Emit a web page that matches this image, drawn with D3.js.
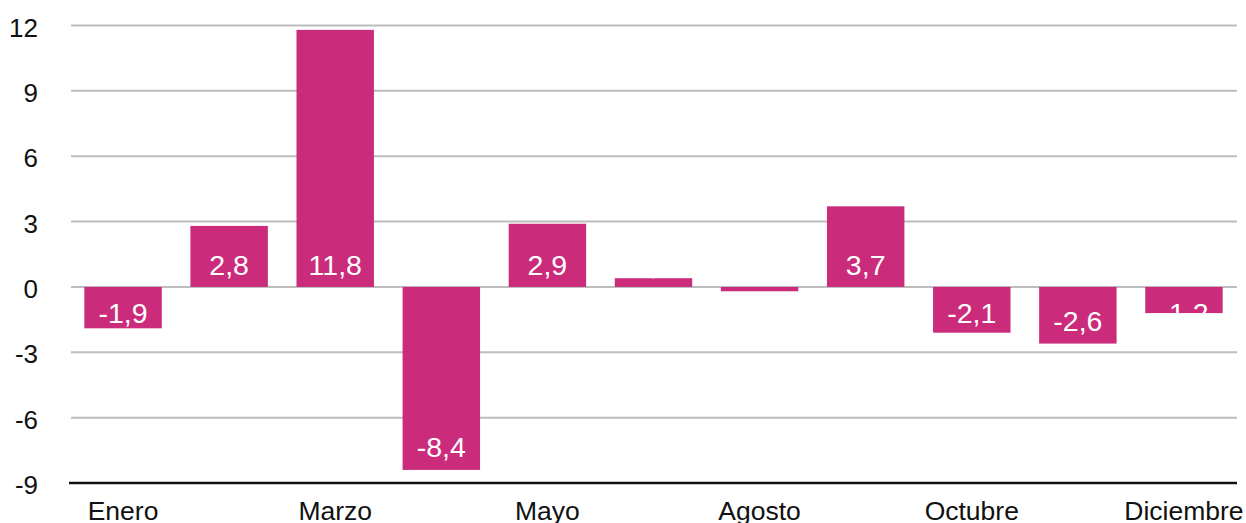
<!DOCTYPE html>
<html lang="es">
<head>
<meta charset="utf-8">
<script src="https://cdn.jsdelivr.net/npm/d3@7"></script>
<style>
  html, body { margin: 0; padding: 0; background: #fff; }
  svg { display: block; font-family: "Liberation Sans", Arial, Helvetica, sans-serif; }
</style>
</head>
<body>
<svg id="chart" width="1246" height="523"></svg>
<script>
// Monthly variation (%)
const months = ["Enero", "Febrero", "Marzo", "Abril", "Mayo", "Junio",
                "Agosto", "Septiembre", "Octubre", "Noviembre", "Diciembre"];
const values = [-1.9, 2.8, 11.8, -8.4, 2.9, 0.4, -0.2, 3.7, -2.1, -2.6, -1.2];
const yTicks = [-9, -6, -3, 0, 3, 6, 9, 12];
const shownMonths = ["Enero", "Marzo", "Mayo", "Agosto", "Octubre", "Diciembre"];

const data = months.map((m, i) => ({ month: m, value: values[i] }));

const svg = d3.select("#chart");
const plot = { left: 70, right: 1237, top: 25.5, bottom: 483 };
const barColor = "#cb2b7b";

const x = d3.scaleBand()
  .domain(months)
  .range([plot.left, plot.right])
  .paddingInner(0.27)
  .paddingOuter(0.135);

const y = d3.scaleLinear()
  .domain([-9, 12])
  .range([plot.bottom, plot.top]);

const fmt = v => d3.format(".1f")(v).replace(".", ",").replace("−", "-");

// Horizontal gridlines
svg.append("g")
  .selectAll("line")
  .data(yTicks.filter(t => t !== -9))
  .join("line")
  .attr("x1", plot.left + 1)
  .attr("x2", plot.right)
  .attr("y1", d => y(d))
  .attr("y2", d => y(d))
  .attr("stroke", "#bdbdbd")
  .attr("stroke-width", 2);

// Y tick labels
svg.append("g")
  .selectAll("text")
  .data(yTicks)
  .join("text")
  .attr("x", 38)
  .attr("y", d => y(d) + 11)
  .attr("text-anchor", "end")
  .attr("font-size", 26)
  .attr("fill", "#111")
  .text(d => d);

// Bars
const zero = y(0);
const bars = svg.append("g");
const defs = svg.append("defs");

data.forEach((d, i) => {
  const x0 = x(d.month);
  const y0 = Math.min(y(d.value), zero);
  const h = Math.abs(y(d.value) - zero);
  bars.append("rect")
    .attr("x", x0)
    .attr("y", y0)
    .attr("width", x.bandwidth())
    .attr("height", h)
    .attr("fill", barColor);

  // Value labels sit inside the bar and are clipped to it
  defs.append("clipPath")
    .attr("id", "clip" + i)
    .append("rect")
    .attr("x", x0)
    .attr("y", y0)
    .attr("width", x.bandwidth())
    .attr("height", h);

  const baseline = d.value >= 0
    ? zero - 12
    : Math.max(y(d.value) - 13, zero + 36);

  bars.append("text")
    .attr("clip-path", `url(#clip${i})`)
    .attr("x", x0 + x.bandwidth() / 2)
    .attr("y", baseline)
    .attr("text-anchor", "middle")
    .attr("font-size", 28.5)
    .attr("fill", "#fff")
    .text(fmt(d.value));
});

// Baseline axis at the bottom
svg.append("line")
  .attr("x1", plot.left - 1)
  .attr("x2", plot.right)
  .attr("y1", plot.bottom)
  .attr("y2", plot.bottom)
  .attr("stroke", "#111")
  .attr("stroke-width", 2.5);

// Category labels (every other month)
svg.append("g")
  .selectAll("text")
  .data(shownMonths)
  .join("text")
  .attr("x", d => x(d) + x.bandwidth() / 2)
  .attr("y", 520)
  .attr("text-anchor", "middle")
  .attr("font-size", 26.5)
  .attr("fill", "#111")
  .text(d => d);
</script>
</body>
</html>
